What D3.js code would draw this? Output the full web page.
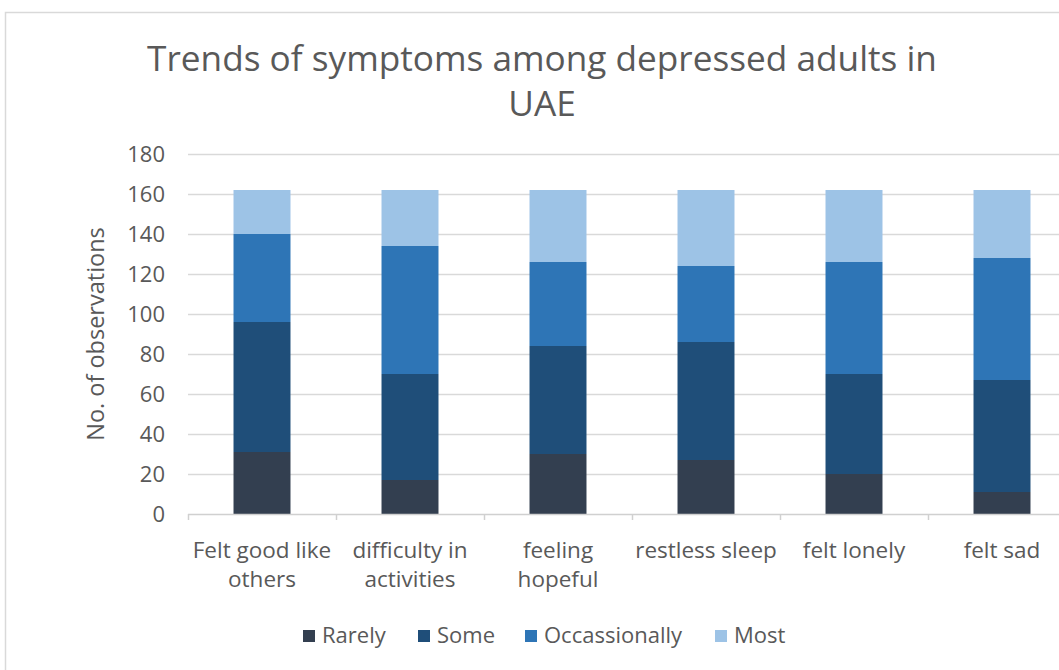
<!DOCTYPE html>
<html>
<head>
<meta charset="utf-8">
<script src="https://cdn.jsdelivr.net/npm/d3@7"></script>
<style>
  html, body { margin: 0; padding: 0; background: #ffffff; }
  svg { display: block; font-family: "Open Sans", Lato, sans-serif; }
</style>
</head>
<body>
<svg id="chart" width="1059" height="670"></svg>
<script>
// Symptom categories along the x axis
const categories = [
  ["Felt good like", "others"],
  ["difficulty in", "activities"],
  ["feeling", "hopeful"],
  ["restless sleep"],
  ["felt lonely"],
  ["felt sad"]
];

// Response frequencies (stacked bottom to top)
const seriesNames = ["Rarely", "Some", "Occassionally", "Most"];
const rarely       = [31, 17, 30, 27, 20, 11];
const some         = [65, 53, 54, 59, 50, 56];
const occasionally = [44, 64, 42, 38, 56, 61];
const most         = [22, 28, 36, 38, 36, 34];

const yTicks = [0, 20, 40, 60, 80, 100, 120, 140, 160, 180];
const colors = ["#333f50", "#1f4e79", "#2e75b6", "#9dc3e6"];

const svg = d3.select("#chart");
const textColor = "#595959";

// chart frame
svg.append("rect")
  .attr("x", 5.5).attr("y", 12.5)
  .attr("width", 1100).attr("height", 700)
  .attr("fill", "#ffffff")
  .attr("stroke", "#d9d9d9").attr("stroke-width", 1.5);

// title
const title = svg.append("text")
  .attr("text-anchor", "middle")
  .attr("fill", textColor)
  .attr("font-size", 35.2);
title.append("tspan").attr("x", 542).attr("y", 71)
  .text("Trends of symptoms among depressed adults in");
title.append("tspan").attr("x", 542).attr("y", 116).text("UAE");

const keys = d3.range(categories.length);
const rows = keys.map(i => ({
  idx: i,
  Rarely: rarely[i],
  Some: some[i],
  Occassionally: occasionally[i],
  Most: most[i]
}));

const x = d3.scaleBand()
  .domain(keys)
  .range([188, 1076])
  .paddingInner(0.615)
  .paddingOuter(0.3075);

const y = d3.scaleLinear().domain([0, 180]).range([514, 154]);

// gridlines
svg.append("g")
  .selectAll("line")
  .data(yTicks.filter(d => d > 0))
  .join("line")
  .attr("x1", 188).attr("x2", 1076)
  .attr("y1", d => Math.round(y(d)) + 0.5)
  .attr("y2", d => Math.round(y(d)) + 0.5)
  .attr("stroke", "#d9d9d9").attr("stroke-width", 1.5);

// y axis labels
const yAxis = d3.axisLeft(y).tickValues(yTicks).tickSize(0).tickPadding(0);
const gy = svg.append("g").attr("transform", "translate(165,0)").call(yAxis);
gy.select(".domain").remove();
gy.selectAll("text")
  .attr("fill", textColor)
  .attr("font-size", 22)
  .attr("font-family", "'Open Sans', sans-serif");

// y axis title
svg.append("text")
  .attr("transform", "translate(104,334) rotate(-90)")
  .attr("text-anchor", "middle")
  .attr("fill", textColor)
  .attr("font-size", 23.5)
  .text("No. of observations");

// stacked bars
const stacked = d3.stack().keys(seriesNames)(rows);
svg.append("g")
  .selectAll("g")
  .data(stacked)
  .join("g")
  .attr("fill", (d, i) => colors[i])
  .selectAll("rect")
  .data(d => d)
  .join("rect")
  .attr("x", d => x(d.data.idx))
  .attr("width", x.bandwidth())
  .attr("y", d => y(d[1]))
  .attr("height", d => y(d[0]) - y(d[1]));

// x axis line and boundary ticks
const step = x.step();
svg.append("line")
  .attr("x1", 188).attr("x2", 1076)
  .attr("y1", 514.5).attr("y2", 514.5)
  .attr("stroke", "#d0d0d0").attr("stroke-width", 1.5);
svg.append("g")
  .selectAll("line")
  .data(d3.range(categories.length + 1))
  .join("line")
  .attr("x1", i => 188 + i * step + 0.5)
  .attr("x2", i => 188 + i * step + 0.5)
  .attr("y1", 514).attr("y2", 520)
  .attr("stroke", "#d0d0d0").attr("stroke-width", 1.5);

// category labels
const xl = svg.append("g")
  .selectAll("text")
  .data(keys)
  .join("text")
  .attr("text-anchor", "middle")
  .attr("fill", textColor)
  .attr("font-size", 22.5);
xl.each(function(i) {
  const t = d3.select(this);
  categories[i].forEach((line, j) => {
    t.append("tspan")
      .attr("x", x(i) + x.bandwidth() / 2)
      .attr("y", 558 + j * 29)
      .text(line);
  });
});

// legend
const legendX = [303, 418, 525, 715];
const lg = svg.append("g")
  .selectAll("g")
  .data(seriesNames)
  .join("g")
  .attr("transform", (d, i) => `translate(${legendX[i]},0)`);
lg.append("rect")
  .attr("x", 0).attr("y", 630)
  .attr("width", 12).attr("height", 12)
  .attr("fill", (d, i) => colors[i]);
lg.append("text")
  .attr("x", 19).attr("y", 643)
  .attr("fill", textColor)
  .attr("font-size", 22)
  .text(d => d);
</script>
</body>
</html>
